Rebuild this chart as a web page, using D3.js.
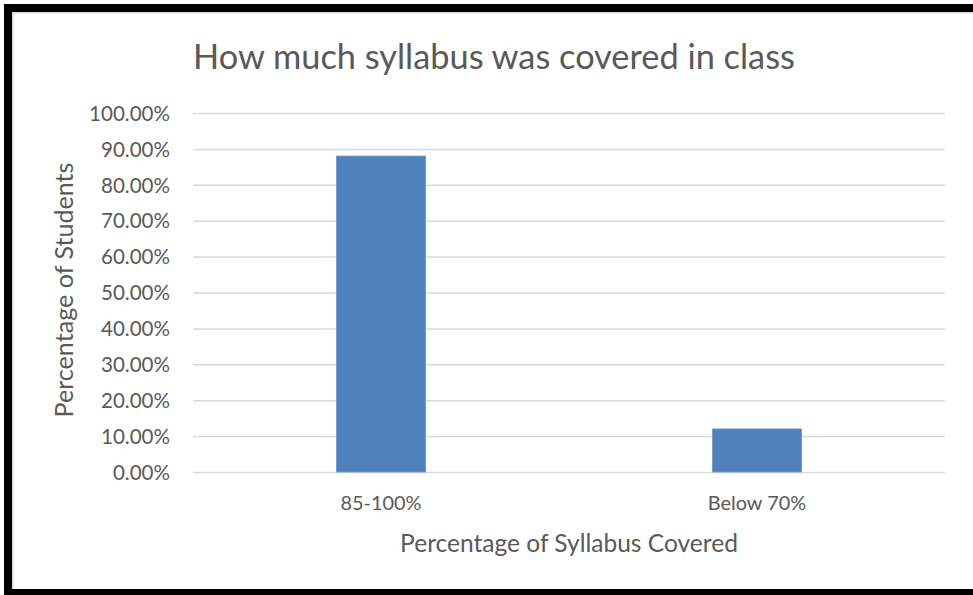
<!DOCTYPE html>
<html><head><meta charset="utf-8">
<script src="https://cdn.jsdelivr.net/npm/d3@7"></script>
<style>body{margin:0;background:#fff}svg{display:block}</style>
</head><body>
<script>
const categories = ["85-100%", "Below 70%"];
const values = [0.88, 0.12];
const yTicks = [0, 0.1, 0.2, 0.3, 0.4, 0.5, 0.6, 0.7, 0.8, 0.9, 1.0];
const title = "How much syllabus was covered in class";
const xTitle = "Percentage of Syllabus Covered";
const yTitle = "Percentage of Students";

const W = 973, H = 595;
const FONT = "Lato, 'Open Sans', sans-serif";
const TXT = "#595959";
const svg = d3.select("body").append("svg").attr("width", W).attr("height", H);

svg.append("rect").attr("width", W).attr("height", H).attr("fill", "#fff");
// frame
svg.append("rect").attr("x", 4).attr("y", 4).attr("width", W - 4).attr("height", 8).attr("fill", "#000");
svg.append("rect").attr("x", 4).attr("y", 4).attr("width", 8).attr("height", H - 4).attr("fill", "#000");
svg.append("rect").attr("x", 4).attr("y", 589).attr("width", W - 4).attr("height", 6).attr("fill", "#000");
svg.append("rect").attr("x", 12).attr("y", 12).attr("width", W - 12).attr("height", 1.5).attr("fill", "#d9d9d9");
svg.append("rect").attr("x", 12).attr("y", 12).attr("width", 1.5).attr("height", 577).attr("fill", "#d9d9d9");

const m = {left: 193, right: 945, top: 113, bottom: 472};
const x = d3.scaleBand().domain(categories).range([m.left, m.right]).paddingInner(0.763).paddingOuter(0.763 / 2);
const y = d3.scaleLinear().domain([0, 1]).range([m.bottom, m.top]);

function fit(sel, target) {
  sel.attr("font-size", 100);
  const w = sel.node().getComputedTextLength();
  sel.attr("font-size", 100 * target / w);
  return sel;
}

// gridlines via axis
const yAxis = d3.axisLeft(y).tickValues(yTicks).tickSize(-(m.right - m.left)).tickPadding(23)
  .tickFormat(d => (d * 100).toFixed(2) + "%");
const gy = svg.append("g").attr("transform", `translate(${m.left},0)`).call(yAxis);
gy.select(".domain").remove();
gy.selectAll(".tick line").attr("stroke", "#d9d9d9").attr("stroke-width", 1.5);
gy.selectAll(".tick text").attr("fill", TXT).attr("font-family", FONT).attr("dy", "0.35em").attr("x", -23)
  .attr("font-size", 18);
// fit tick label font to width of "100.00%" ~81px
{
  const t = gy.selectAll(".tick text").filter(d => d === 1);
  t.attr("font-size", 100);
  const w = t.node().getComputedTextLength();
  gy.selectAll(".tick text").attr("font-size", 100 * 81 / w);
}

// bars
svg.append("g").selectAll("rect").data(values).join("rect")
  .attr("x", (d, i) => x(categories[i]))
  .attr("y", d => y(d))
  .attr("width", x.bandwidth())
  .attr("height", d => y(0) - y(d))
  .attr("fill", "#4F81BD")
  .attr("stroke", "#6f97c9").attr("stroke-width", 0.8);

// x axis labels
const xAxis = d3.axisBottom(x).tickSize(0).tickPadding(0);
const gx = svg.append("g").attr("transform", `translate(0,${m.bottom})`).call(xAxis);
gx.select(".domain").remove();
gx.selectAll(".tick text").attr("fill", TXT).attr("font-family", FONT).attr("y", 38).attr("dy", 0);
{
  const t = gx.selectAll(".tick text").filter(d => d === categories[0]);
  t.attr("font-size", 100);
  const w = t.node().getComputedTextLength();
  gx.selectAll(".tick text").attr("font-size", 100 * 81 / w);
}

// titles
fit(svg.append("text").attr("x", 494).attr("y", 69).attr("text-anchor", "middle")
  .attr("font-family", FONT).attr("fill", TXT).text(title), 602);
fit(svg.append("text").attr("x", 569).attr("y", 552).attr("text-anchor", "middle")
  .attr("font-family", FONT).attr("fill", TXT).text(xTitle), 338);
fit(svg.append("text").attr("transform", "translate(73,290) rotate(-90)").attr("text-anchor", "middle")
  .attr("font-family", FONT).attr("fill", TXT).text(yTitle), 255);
</script>
</body></html>
